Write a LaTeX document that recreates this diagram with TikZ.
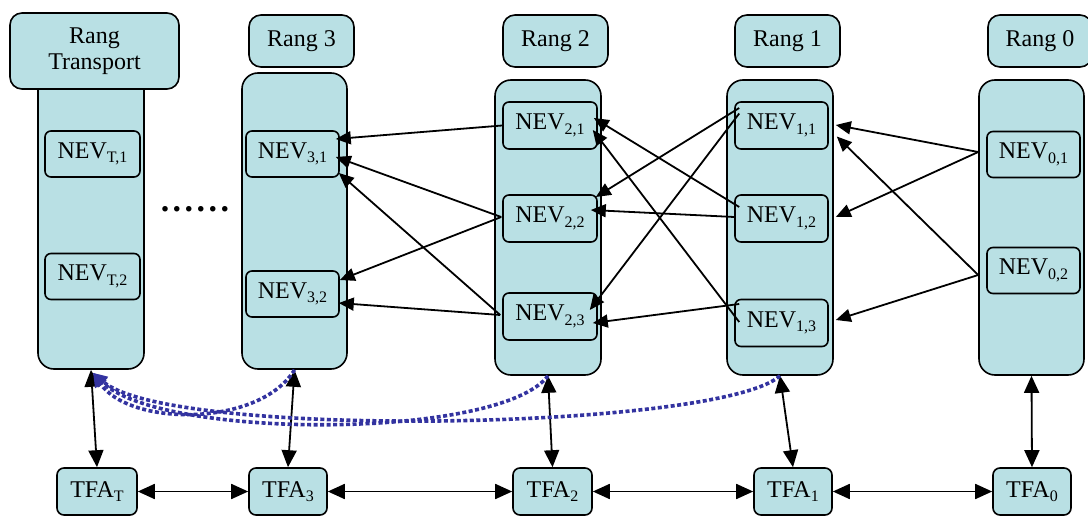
\documentclass[tikz,border=0pt]{standalone}
\usepackage{fontspec}
\setmainfont{Liberation Serif}
\usetikzlibrary{arrows.meta,calc}
\definecolor{boxfill}{RGB}{185,224,228}
\definecolor{linkblue}{RGB}{51,51,160}
\newcommand\sbx[1]{\raisebox{-4.5pt}{\fontsize{16}{16}\selectfont #1}}
\tikzset{
  base/.style={draw=black, line width=1.6pt, fill=boxfill, inner sep=0pt},
  colbox/.style={base, rounded corners=16pt},
  hdr/.style={base, rounded corners=12pt, font=\fontsize{24}{26}\selectfont, align=center},
  nev/.style={base, rounded corners=6pt, minimum width=94pt, minimum height=46pt, font=\fontsize{24}{26}\selectfont},
  tfa/.style={base, rounded corners=7pt, minimum width=78pt, minimum height=47pt, font=\fontsize{24}{26}\selectfont},
  link/.style={line width=1.8pt, -{Triangle[length=15pt,width=13pt]}},
  dlink/.style={line width=1.8pt, {Triangle[length=17pt,width=15pt]}-{Triangle[length=17pt,width=15pt]}},
  dotlink/.style={draw=linkblue, line width=3.6pt, dash pattern=on 4pt off 2.5pt, -{Triangle[length=14pt,width=13pt]}}
}
\begin{document}
\begin{tikzpicture}[x=1pt,y=-1pt]
\path[use as bounding box] (0,0) rectangle (1088,516);
% columns
\node[colbox, minimum width=106pt, minimum height=309pt] (CT) at (91,214.5) {};
\node[colbox, minimum width=105pt, minimum height=296pt] (C3) at (294.5,221) {};
\node[colbox, minimum width=106pt, minimum height=295pt] (C2) at (548,227.5) {};
\node[colbox, minimum width=106pt, minimum height=295pt] (C1) at (780,227.5) {};
\node[colbox, minimum width=105pt, minimum height=295pt] (C0) at (1031.5,227.5) {};
% headers
\node[hdr, minimum width=169pt, minimum height=76pt] (HT) at (94.5,51) {Rang\\Transport};
\node[hdr, minimum width=105pt, minimum height=52pt] (H3) at (301.5,41) {Rang 3};
\node[hdr, minimum width=105pt, minimum height=52pt] (H2) at (555.5,41) {Rang 2};
\node[hdr, minimum width=105pt, minimum height=52pt] (H1) at (787.5,41) {Rang 1};
\node[hdr, minimum width=104pt, minimum height=52pt] (H0) at (1040,41) {Rang 0};
% NEV boxes
\node[nev, minimum width=95pt] (NT1) at (92.5,154) {NEV\sbx{T,1}};
\node[nev, minimum width=95pt] (NT2) at (92.5,276.5) {NEV\sbx{T,2}};
\node[nev, minimum width=93pt] (N31) at (292.5,154) {NEV\sbx{3,1}};
\node[nev, minimum width=93pt] (N32) at (292.5,294) {NEV\sbx{3,2}};
\node[nev, minimum height=47pt] (N21) at (550,125.5) {NEV\sbx{2,1}};
\node[nev, minimum height=47pt] (N22) at (550,218.5) {NEV\sbx{2,2}};
\node[nev, minimum height=47pt] (N23) at (550,316.5) {NEV\sbx{2,3}};
\node[nev, minimum width=93pt, minimum height=47pt] (N11) at (781.5,125.5) {NEV\sbx{1,1}};
\node[nev, minimum width=93pt, minimum height=47pt] (N12) at (781.5,218.5) {NEV\sbx{1,2}};
\node[nev, minimum width=93pt, minimum height=47pt] (N13) at (781.5,323) {NEV\sbx{1,3}};
\node[nev, minimum width=93pt] (N01) at (1033.5,154.5) {NEV\sbx{0,1}};
\node[nev, minimum width=93pt] (N02) at (1033.5,270.5) {NEV\sbx{0,2}};
% dots
\node[inner sep=0pt] (dots) at (195,209) {\fontsize{34}{34}\selectfont\bfseries .\kern3.5pt.\kern3.5pt.\kern3.5pt.\kern3.5pt.\kern3.5pt.};
% TFA boxes
\node[tfa, minimum width=80pt] (TT) at (97,491.5) {TFA\sbx{T}};
\node[tfa] (T3) at (288,491.5) {TFA\sbx{3}};
\node[tfa, minimum width=79pt] (T2) at (552.5,491.5) {TFA\sbx{2}};
\node[tfa] (T1) at (793,491.5) {TFA\sbx{1}};
\node[tfa] (T0) at (1032,491.5) {TFA\sbx{0}};
% rank 2 -> rank 3
\draw[link] (N21.west) -- ($(N31.east)+(-4,-15)$);
\draw[link] ($(N22.west)+(-1,-1.5)$) -- ($(N31.east)+(-4,3)$);
\draw[link] ($(N23.west)+(-2,-1.5)$) -- ($(N31.east)+(-1,19)$);
\draw[link] ($(N22.west)+(-1,-1.5)$) -- ($(N32.east)+(0,-14)$);
\draw[link] ($(N23.west)+(-2,-1.5)$) -- ($(N32.east)+(-1,9)$);
% rank 1 -> rank 2
\draw[link] ($(N11.west)+(5,-17.5)$) -- ($(N22.east)+(-2,-21.5)$);
\draw[link] ($(N11.west)+(5,-12)$) -- ($(N23.east)+(-8,-6.5)$);
\draw[link] ($(N12.west)+(5,-11.5)$) -- ($(N21.east)+(-4,-7.5)$);
\draw[link] ($(N12.west)+(0,-1.5)$) -- ($(N22.east)+(-7,-8.5)$);
\draw[link] ($(N13.west)+(5,-1)$) -- ($(N21.east)+(-5,4.5)$);
\draw[link] ($(N13.west)+(5,-19)$) -- ($(N23.east)+(-5,6.5)$);
% rank 0 -> rank 1
\draw[link] ($(N01.west)+(-8,-2.5)$) -- ($(N11.east)+(7,-0.5)$);
\draw[link] ($(N01.west)+(-8,-2.5)$) -- ($(N12.east)+(7,-1.5)$);
\draw[link] ($(N02.west)+(-8,4.5)$) -- ($(N11.east)+(8,11)$);
\draw[link] ($(N02.west)+(-8,4.5)$) -- ($(N13.east)+(7,-3)$);
% vertical links
\draw[dlink] (CT.south) -- (TT.north);
\draw[dlink] (C3.south) -- (T3.north);
\draw[dlink] (C2.south) -- (T2.north);
\draw[dlink] (C1.south) -- (T1.north);
\draw[dlink] (C0.south) -- (T0.north);
% horizontal links
\draw[dlink] (TT.east) -- (T3.west);
\draw[dlink] (T3.east) -- (T2.west);
\draw[dlink] (T2.east) -- (T1.west);
\draw[dlink] (T1.east) -- (T0.west);
% dotted blue links
\coordinate (ctend) at ($(CT.south)+(2,3)$);
\draw[dotlink] (C3.south) .. controls (260,427) and (130,427) .. (ctend);
\draw[dotlink] (C2.south) .. controls (500,440) and (160,440) .. (ctend);
\draw[dotlink] (C1.south) .. controls (720,430) and (170,440) .. (ctend);
\end{tikzpicture}
\end{document}
